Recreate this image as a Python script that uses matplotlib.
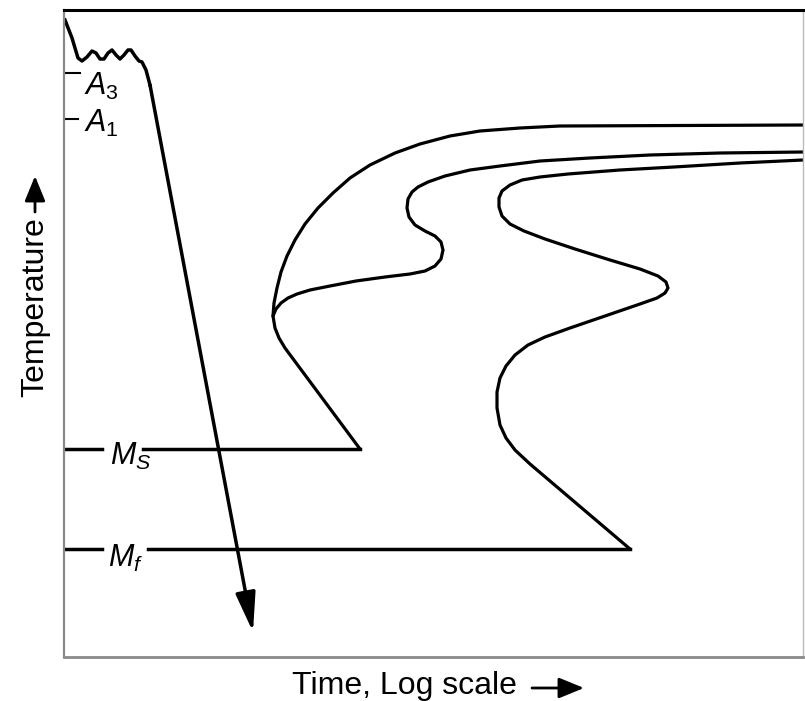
import matplotlib
matplotlib.use("Agg")
import matplotlib.pyplot as plt

plt.rcParams['font.family'] = ['Liberation Sans', 'DejaVu Sans']
plt.rcParams['mathtext.fontset'] = 'custom'
plt.rcParams['mathtext.it'] = 'Liberation Sans:italic'
plt.rcParams['mathtext.rm'] = 'Liberation Sans'

# schematic values: time (log, arbitrary units) and temperature (arbitrary units)
cool_t = [1, 8, 14, 18, 23, 28, 32, 36, 40, 44, 48, 52, 56, 60, 64, 67, 71, 75, 78, 82, 86]
cool_T = [637, 619, 599, 596, 600, 606, 604, 598, 598, 604, 607, 602, 598, 602, 607, 607, 601, 596, 595, 587, 572]
cool_tip = (189, 25)

start_t = [739, 496, 456, 416, 386, 356, 331, 306, 286, 269, 254, 241, 231, 223, 217, 213, 210, 209,
           211, 215, 221, 296]
start_T = [532, 531, 529, 526, 521, 513, 504, 492, 479, 464, 449, 433, 417, 401, 385, 369, 354, 341,
           329, 319, 309, 208]

mid_t = [209, 212, 217, 224, 233, 246, 266, 292, 321, 346, 361, 371, 377, 379, 377, 371, 361, 351,
         345, 343, 344, 348, 354, 364, 381, 406, 436, 476, 526, 586, 656, 739]
mid_T = [341, 348, 354, 359, 363, 367, 371, 376, 380, 383, 386, 391, 398, 407, 415, 421, 426, 432,
         440, 449, 458, 465, 470, 475, 481, 487, 491, 496, 499, 502, 504, 505]

finish_t = [739, 676, 610, 556, 504, 476, 458, 446, 438, 435, 435, 438, 446, 460, 481, 511, 546, 576,
            594, 602, 604, 601, 593, 576, 541, 506, 481, 464, 451, 442, 436, 433, 433, 436, 442, 451,
            466, 566]
finish_T = [497, 494, 490, 487, 483, 480, 477, 472, 466, 459, 450, 441, 433, 426, 418, 408, 397, 388,
            381, 375, 369, 364, 359, 353, 341, 329, 320, 312, 302, 291, 279, 265, 249, 232, 219, 207,
            193, 108]

A3, A1 = 584, 538
Ms, Mf = 208, 108
Ms_end, Mf_end = 296, 566

fig = plt.figure(figsize=(8.05, 7.01), dpi=100)
ax = fig.add_axes([64 / 805, 44 / 701, 739 / 805, 647 / 701])
ax.set_xlim(0, 739)
ax.set_ylim(0, 647)
ax.set_xticks([])
ax.set_yticks([])
ax.spines['left'].set_color('#8a8a8a')
ax.spines['left'].set_linewidth(1.6)
ax.spines['bottom'].set_color('#8a8a8a')
ax.spines['bottom'].set_linewidth(2)
ax.spines['top'].set_color('black')
ax.spines['top'].set_linewidth(2.2)
ax.spines['right'].set_color('#bbbbbb')
ax.spines['right'].set_linewidth(1)

lw = 2.3
for t, T in [(start_t, start_T), (mid_t, mid_T), (finish_t, finish_T)]:
    ax.plot(t, T, color='black', lw=lw, solid_capstyle='round', solid_joinstyle='round')

# cooling curve with arrow
ax.plot(cool_t, cool_T, color='black', lw=2.5, solid_joinstyle='round')
ax.annotate('', xy=cool_tip, xytext=(cool_t[-1], cool_T[-1]),
            arrowprops=dict(arrowstyle='-|>,head_length=1.5,head_width=0.38', mutation_scale=16,
                            color='black', lw=2.5, shrinkA=0, shrinkB=0))

# critical temperatures
ax.plot([0, 16], [A3, A3], color='black', lw=1.5)
ax.plot([0, 14], [A1, A1], color='black', lw=1.5)
ax.text(20, 562, r'$A_3$', fontsize=22, va='baseline')
ax.text(20, 525, r'$A_1$', fontsize=22, va='baseline')

ax.plot([0, 38], [Ms, Ms], color='black', lw=2.5)
ax.plot([79, Ms_end], [Ms, Ms], color='black', lw=2.5)
ax.text(46, 192, r'$M_S$', fontsize=22, va='baseline')

ax.plot([0, 38], [Mf, Mf], color='black', lw=2.5)
ax.plot([84, Mf_end], [Mf, Mf], color='black', lw=2.5)
ax.text(44, 90, r'$M_f$', fontsize=22, va='baseline')

# axis titles with bold arrows
arrow_style = dict(arrowstyle='-|>,head_length=1.1,head_width=0.45', mutation_scale=14,
                   color='black', lw=2, shrinkA=0, shrinkB=0)
fig.text(404 / 805, 1 - 686 / 701, 'Time, Log scale', fontsize=23, ha='center', va='center')
ax.annotate('', xy=(584 / 805, 1 - 688 / 701), xytext=(532 / 805, 1 - 688 / 701),
            xycoords='figure fraction', textcoords='figure fraction',
            annotation_clip=False, arrowprops=arrow_style)
fig.text(35 / 805, 1 - 307 / 701, 'Temperature', fontsize=23, rotation=90, ha='center', va='center')
ax.annotate('', xy=(35 / 805, 1 - 176 / 701), xytext=(35 / 805, 1 - 212 / 701),
            xycoords='figure fraction', textcoords='figure fraction',
            annotation_clip=False, arrowprops=arrow_style)

fig.savefig('out.png', dpi=100)
